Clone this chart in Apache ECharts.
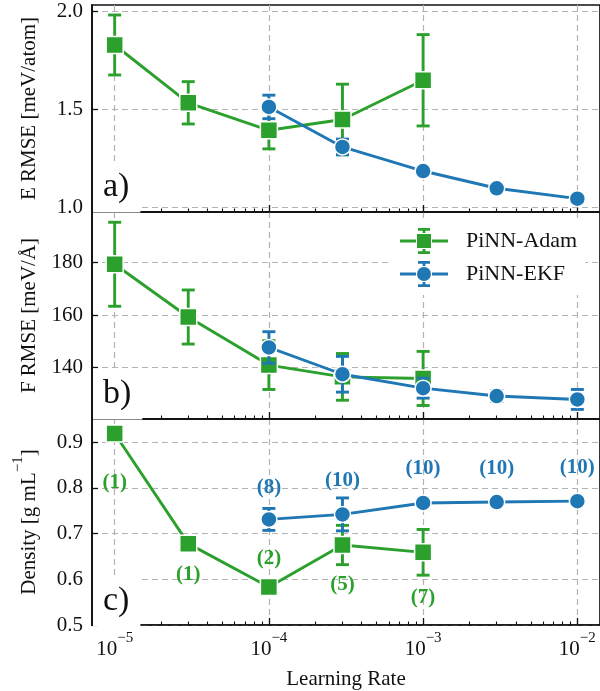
<!DOCTYPE html>
<html>
<head>
<meta charset="utf-8">
<script src="https://cdn.jsdelivr.net/npm/echarts@6/dist/echarts.min.js"></script>
<style>
  html, body { margin: 0; padding: 0; background: #fff; }
  #chart { width: 600px; height: 691px; }
</style>
</head>
<body>
<div id="chart"></div>
<script>
// Learning rates sampled by each optimiser
const lrAdam = [1e-5, 3e-5, 1e-4, 3e-4, 1e-3];
const lrEkf = [1e-4, 3e-4, 1e-3, 3e-3, 1e-2];

// a) energy RMSE [meV/atom]
const eAdam = [1.83, 1.535, 1.395, 1.45, 1.65];
const eAdamErr = [0.153, 0.108, 0.095, 0.18, 0.233];
const eEkf = [1.514, 1.31, 1.187, 1.099, 1.046];
const eEkfErr = [0.06, 0.04, 0.02, 0.01, 0.005];

// b) force RMSE [meV/Å]
const fAdam = [179.4, 159.3, 141.0, 136.5, 135.9];
const fAdamErr = [16.0, 10.3, 9.3, 8.9, 10.3];
const fEkf = [147.7, 137.5, 132.2, 129.2, 127.9];
const fEkfErr = [6.0, 6.8, 3.8, 2.0, 3.8];

// c) density [g/mL] and number of stable runs
const dAdam = [0.919, 0.678, 0.583, 0.675, 0.659];
const dAdamErr = [0, 0, 0, 0.043, 0.05];
const dEkf = [0.731, 0.742, 0.767, 0.769, 0.771];
const dEkfErr = [0.024, 0.036, 0.004, 0.003, 0.003];
const nAdam = [1, 1, 2, 5, 7];
const nEkf = [8, 10, 10, 10, 10];

// tick values
const xMajor = [1e-5, 1e-4, 1e-3, 1e-2];
const xMinor = [8e-6, 9e-6,
  2e-5, 3e-5, 4e-5, 5e-5, 6e-5, 7e-5, 8e-5, 9e-5,
  2e-4, 3e-4, 4e-4, 5e-4, 6e-4, 7e-4, 8e-4, 9e-4,
  2e-3, 3e-3, 4e-3, 5e-3, 6e-3, 7e-3, 8e-3, 9e-3];
const yTicksE = [1.0, 1.5, 2.0];
const yTicksF = [140, 160, 180];
const yTicksD = [0.5, 0.6, 0.7, 0.8, 0.9];

// ---- styling ----
const FONT = '"Liberation Serif", "Times New Roman", serif';
const GREEN = '#2ca02c';
const BLUE = '#1f77b4';
const INK = '#111';
const GRID_LINE = { type: [6, 4], color: '#b3b3b3', width: 1.2 };
const X_MIN = Math.pow(10, -5.147);
const X_MAX = Math.pow(10, -1.853);
const LW = 2.9;

// vertical label shift (px) of the run counts relative to each marker
const adamTagShift = [49, 31, -28, 40, 45];
const ekfTagShift = [-32, -34, -34, -33, -34];

const panels = [
  { top: 5, min: 0.978, max: 2.034, ticks: yTicksE, digits: 1,
    name: 'E RMSE [meV/atom]', letter: 'a)' },
  { top: 212, min: 120.45, max: 199.31, ticks: yTicksF, digits: 0,
    name: 'F RMSE [meV/Å]', letter: 'b)' },
  { top: 419, min: 0.5, max: 0.9507, ticks: yTicksD, digits: 1,
    name: '{n|Density [g mL}{s|−1}{n|]}', letter: 'c)' }
];
const PANEL_H = 207;

// base text + raised exponent
const supRich = {
  n: { fontSize: 21, fontFamily: FONT, color: INK, lineHeight: 29, verticalAlign: 'bottom' },
  s: { fontSize: 15, fontFamily: FONT, color: INK, lineHeight: 15, verticalAlign: 'top' }
};

const grids = panels.map(p => ({
  left: 92, width: 509, top: p.top, height: PANEL_H,
  show: true, borderColor: INK, borderWidth: 1.7, backgroundColor: 'transparent'
}));

const xAxes = [];
panels.forEach((p, gi) => {
  const last = gi === panels.length - 1;
  // major ticks, labels and vertical grid lines
  xAxes.push({
    type: 'log', logBase: 10, gridIndex: gi, min: X_MIN, max: X_MAX, position: 'bottom',
    axisLine: { show: true, lineStyle: { color: INK, width: 1.7 } },
    axisTick: { show: true, inside: true, length: 7, customValues: xMajor,
      lineStyle: { color: INK, width: 1.3 } },
    axisLabel: last ? {
      show: true, customValues: xMajor, margin: 6,
      formatter: v => '{n|10}{s|−' + Math.abs(Math.round(Math.log10(v))) + '}',
      rich: supRich
    } : { show: false },
    splitLine: { show: true, lineStyle: GRID_LINE },
    name: last ? 'Learning Rate' : '',
    nameLocation: 'middle', nameGap: 44,
    nameTextStyle: { fontSize: 21, fontFamily: FONT, color: INK }
  });
  // minor ticks
  xAxes.push({
    type: 'log', logBase: 10, gridIndex: gi, min: X_MIN, max: X_MAX, position: 'bottom',
    axisLine: { show: false },
    axisTick: { show: true, inside: true, length: 3.5, customValues: xMinor,
      lineStyle: { color: INK, width: 1.1 } },
    axisLabel: { show: false },
    splitLine: { show: false }
  });
});

const yAxes = panels.map((p, gi) => ({
  type: 'value', gridIndex: gi, min: p.min, max: p.max,
  axisLine: { show: true, lineStyle: { color: INK, width: 1.7 } },
  axisTick: { show: true, inside: true, length: 6, customValues: p.ticks,
    lineStyle: { color: INK, width: 1.3 } },
  axisLabel: { show: true, customValues: p.ticks, margin: 9,
    formatter: v => v.toFixed(p.digits),
    fontSize: 21, fontFamily: FONT, color: INK },
  splitLine: { show: true, lineStyle: GRID_LINE },
  name: p.name, nameLocation: 'middle', nameGap: 52,
  nameTextStyle: { fontSize: 21, fontFamily: FONT, color: INK, rich: supRich }
}));

function errorBars(name, gi, color, xs, ys, es, z) {
  return {
    type: 'custom', name, xAxisIndex: gi * 2, yAxisIndex: gi, z,
    encode: { x: 0, y: 1 },
    data: xs.map((x, i) => [x, ys[i], es[i]]),
    renderItem: (params, api) => {
      const x = api.value(0), y = api.value(1), e = api.value(2);
      if (!e) return;
      const hi = api.coord([x, y + e]);
      const lo = api.coord([x, y - e]);
      const cw = 6.5;
      const style = { stroke: color, lineWidth: LW };
      return { type: 'group', children: [
        { type: 'line', shape: { x1: hi[0], y1: hi[1], x2: lo[0], y2: lo[1] }, style },
        { type: 'line', shape: { x1: hi[0] - cw, y1: hi[1], x2: hi[0] + cw, y2: hi[1] }, style },
        { type: 'line', shape: { x1: lo[0] - cw, y1: lo[1], x2: lo[0] + cw, y2: lo[1] }, style }
      ] };
    }
  };
}

function lineSeries(name, gi, color, symbol, size, xs, ys, z, counts, shifts) {
  return {
    type: 'line', name, xAxisIndex: gi * 2, yAxisIndex: gi, z,
    symbol, symbolSize: size, showAllSymbol: true,
    lineStyle: { color, width: LW },
    itemStyle: { color, borderColor: '#fff', borderWidth: 1.5 },
    data: xs.map((x, i) => {
      const item = { value: [x, ys[i]] };
      if (counts) {
        item.label = {
          show: true, position: 'inside', offset: [0, shifts[i]],
          formatter: '(' + counts[i] + ')',
          fontSize: 21, fontWeight: 'bold', fontFamily: FONT, color
        };
      }
      return item;
    })
  };
}

const series = [
  errorBars('PiNN-Adam', 0, GREEN, lrAdam, eAdam, eAdamErr, 2),
  lineSeries('PiNN-Adam', 0, GREEN, 'rect', 17, lrAdam, eAdam, 3),
  errorBars('PiNN-EKF', 0, BLUE, lrEkf, eEkf, eEkfErr, 4),
  lineSeries('PiNN-EKF', 0, BLUE, 'circle', 16, lrEkf, eEkf, 5),

  errorBars('PiNN-Adam', 1, GREEN, lrAdam, fAdam, fAdamErr, 2),
  lineSeries('PiNN-Adam', 1, GREEN, 'rect', 17, lrAdam, fAdam, 3),
  errorBars('PiNN-EKF', 1, BLUE, lrEkf, fEkf, fEkfErr, 4),
  lineSeries('PiNN-EKF', 1, BLUE, 'circle', 16, lrEkf, fEkf, 5),

  errorBars('PiNN-Adam', 2, GREEN, lrAdam, dAdam, dAdamErr, 2),
  lineSeries('PiNN-Adam', 2, GREEN, 'rect', 17, lrAdam, dAdam, 3, nAdam, adamTagShift),
  errorBars('PiNN-EKF', 2, BLUE, lrEkf, dEkf, dEkfErr, 4),
  lineSeries('PiNN-EKF', 2, BLUE, 'circle', 16, lrEkf, dEkf, 5, nEkf, ekfTagShift)
];

// legend handles: line + marker + error bar with caps (48 x 26 box)
const ICON_ADAM = 'path://M0 11.6H16V14.4H0Z M32 11.6H48V14.4H32Z M17 6H31V20H17Z' +
  ' M18 0H30V2.8H18Z M22.6 2.8H25.4V5H22.6Z M18 23.2H30V26H18Z M22.6 21H25.4V23.2H22.6Z';
const ICON_EKF = 'path://M0 11.6H16V14.4H0Z M32 11.6H48V14.4H32Z' +
  ' M17 13A7 7 0 1 1 31 13A7 7 0 1 1 17 13Z' +
  ' M18 0H30V2.8H18Z M22.6 2.8H25.4V5H22.6Z M18 23.2H30V26H18Z M22.6 21H25.4V23.2H22.6Z';

const graphic = panels.map(p => ({
  type: 'text', x: 93, y: p.top + PANEL_H - 25, z: 50,
  style: {
    text: p.letter, font: '34px ' + FONT, fill: INK,
    backgroundColor: '#fff', padding: [8, 11, 9, 10], lineHeight: 34,
    align: 'left', verticalAlign: 'middle'
  }
}));

const chart = echarts.init(document.getElementById('chart'), null, { renderer: 'canvas' });
chart.setOption({
  animation: false,
  backgroundColor: '#fff',
  grid: grids,
  xAxis: xAxes,
  yAxis: yAxes,
  legend: {
    orient: 'vertical', left: 392, top: 222,
    itemWidth: 48, itemHeight: 26, itemGap: 7,
    padding: [6, 8, 8, 8], backgroundColor: '#fff', selectedMode: false,
    textStyle: { fontSize: 22, fontFamily: FONT, color: INK, padding: [0, 0, 0, 13] },
    data: [
      { name: 'PiNN-Adam', icon: ICON_ADAM, itemStyle: { color: GREEN, borderWidth: 0 } },
      { name: 'PiNN-EKF', icon: ICON_EKF, itemStyle: { color: BLUE, borderWidth: 0 } }
    ]
  },
  graphic,
  series
});
</script>
</body>
</html>
